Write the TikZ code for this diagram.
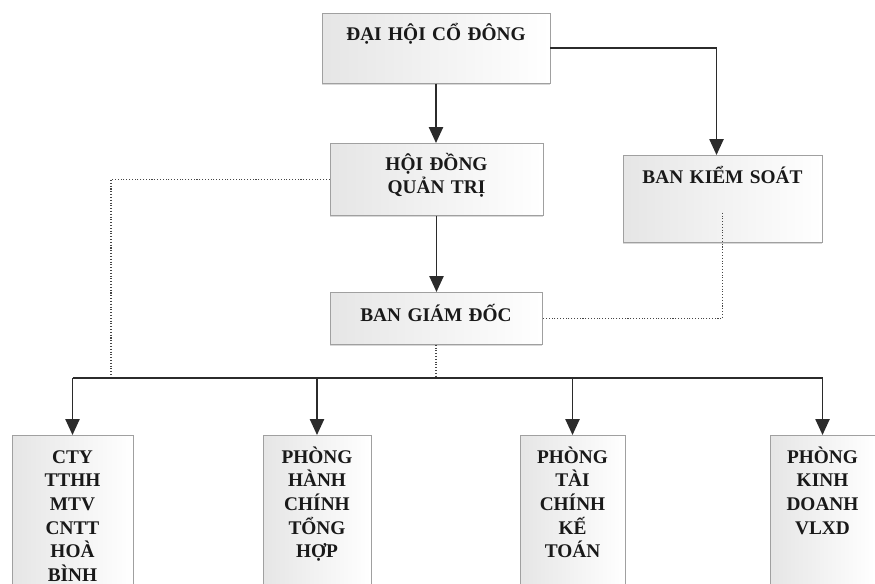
\documentclass[tikz,border=0pt]{standalone}
\usepackage{fontspec}
\setmainfont{Liberation Serif}
\usetikzlibrary{positioning,arrows.meta,shadows}
\definecolor{boxline}{HTML}{A0A0A0}
\definecolor{linkdark}{HTML}{2B2B2B}

\begin{document}
\begin{tikzpicture}[
    box/.style={rectangle, draw=boxline, line width=0.4pt, left color=gray!20, right color=white,
        drop shadow={shadow xshift=0pt, shadow yshift=-1.2pt, fill=gray!60},
        inner xsep=0pt, inner ysep=0pt, align=center, anchor=north, text=black!90,
        font=\fontsize{11}{13.4}\selectfont\bfseries},
    arr/.style={-{Triangle[length=9pt, width=8pt]}, linkdark, line width=1pt},
    link/.style={linkdark, line width=1pt},
    dots/.style={gray!55!black, line width=0.6pt, densely dotted}
]
\useasboundingbox (0,0) rectangle (17.5,-11.66);
% upper levels
\node[box, text width=4.56cm, text height=0.54cm, text depth=0.86cm] (dhcd) at (8.72,-0.26) {ĐẠI HỘI CỔ ĐÔNG};
\node[box, text width=4.26cm, text height=0.54cm, text depth=0.9cm] (hdqt) at (8.73,-2.86) {HỘI ĐỒNG\\QUẢN TRỊ};
\node[box, text width=3.98cm, text height=0.56cm, text depth=1.18cm] (bks) at (14.45,-3.1) {BAN KIỂM SOÁT};
\node[box, text width=4.24cm, text height=0.58cm, text depth=0.46cm] (bgd) at (8.72,-5.84) {BAN GIÁM ĐỐC};
% units
\node[box, text width=2.42cm, text height=0.56cm, text depth=2.6cm] (cty) at (1.45,-8.7) {CTY\\TTHH\\MTV\\CNTT\\HOÀ\\BÌNH};
\node[box, text width=2.16cm, text height=0.56cm, text depth=2.6cm] (hcth) at (6.34,-8.7) {PHÒNG\\HÀNH\\CHÍNH\\TỔNG\\HỢP};
\node[box, text width=2.1cm, text height=0.56cm, text depth=2.6cm] (tckt) at (11.45,-8.7) {PHÒNG\\TÀI\\CHÍNH\\KẾ\\TOÁN};
\node[box, text width=2.1cm, text height=0.56cm, text depth=2.6cm] (kd) at (16.45,-8.7) {PHÒNG\\KINH\\DOANH\\VLXD};
\coordinate (bus) at (0,-7.56);
\coordinate (tap) at (2.22,-7.56);
% connectors
\draw[arr] (dhcd.south) -- (dhcd.south |- hdqt.north);
\draw[arr] (dhcd.east) -| ([xshift=-0.12cm]bks.north);
\draw[arr] (hdqt.south) -- (hdqt.south |- bgd.north);
\draw[dots] (hdqt.west) -| (tap);
\draw[dots] ([yshift=0.6cm]bks.south) |- (bgd.east);
\draw[dots] (bgd.south) -- (bgd.south |- bus);
\draw[link] (cty.north |- bus) -- (kd.north |- bus);
\foreach \n in {cty,hcth,tckt,kd}
    \draw[arr] (\n.north |- bus) -- (\n.north);
\end{tikzpicture}
\end{document}
